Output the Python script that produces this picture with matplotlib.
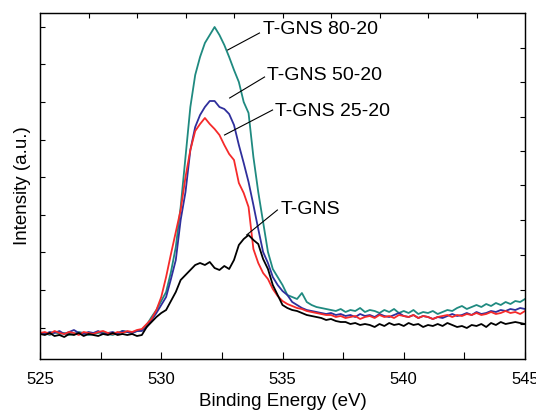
import numpy as np
import matplotlib
matplotlib.use("Agg")
import matplotlib.pyplot as plt

plt.rcParams['font.family'] = ['Liberation Sans', 'DejaVu Sans']

energy = np.linspace(525, 545, 101)

t_gns = [23,22,24,21,22,20,23,22,24,21,23,22,21,23,22,24,22,23,22,23,21,
         22,30,35,40,44,47,56,65,77,82,87,92,94,92,95,89,87,91,88,97,112,118,122,117,113,
         98,88,72,62,52,49,47,46,44,42,41,40,39,37,38,36,35,35,33,34,32,33,32,30,33,31,34,
         32,33,31,34,32,33,30,32,31,33,31,34,32,30,31,29,32,31,33,30,34,32,35,33,34,35,34,33]

t_gns_25 = [24,25,23,26,24,23,25,24,22,25,24,23,25,26,24,23,25,24,26,25,27,
            28,33,38,47,60,80,103,125,147,180,207,226,233,239,233,228,222,212,203,197,174,164,150,108,94,
            84,78,68,61,56,53,51,49,48,46,45,44,43,42,42,40,41,39,40,41,38,40,41,39,42,40,41,
            39,42,41,40,42,39,41,40,38,40,41,42,40,42,41,43,42,44,42,43,45,43,44,46,44,45,43,46]

t_gns_50 = [24,23,25,24,26,23,25,27,24,23,25,24,26,23,24,25,23,26,25,24,26,
            26,30,37,44,52,60,78,97,137,165,207,230,242,250,256,256,250,248,243,232,212,194,175,152,128,
            105,94,80,72,66,62,55,52,49,47,46,45,44,43,44,42,43,41,42,40,43,41,42,40,43,41,40,
            42,44,41,40,42,39,41,40,38,40,39,41,43,41,42,44,42,45,43,44,46,45,47,46,48,47,49,48]

t_gns_80 = [23,24,22,25,23,24,22,23,25,24,22,23,24,25,23,22,24,26,25,24,26,
            27,32,40,47,56,65,85,110,150,200,250,282,300,314,322,330,322,312,300,287,275,255,244,200,165,
            135,105,88,80,72,62,60,58,64,55,52,50,49,48,47,46,48,45,47,46,49,45,47,46,44,47,45,
            48,44,46,44,47,43,45,44,46,43,45,47,46,49,51,48,50,52,50,53,51,54,52,55,53,56,55,58]

series = [
    (t_gns_80, '#1f8a80'),
    (t_gns_50, '#2f2f9c'),
    (t_gns_25, '#f52a2a'),
    (t_gns, '#000000'),
]

labels = ['T-GNS 80-20', 'T-GNS 50-20', 'T-GNS 25-20', 'T-GNS']
label_xy = [(534.18, 327), (534.38, 282), (534.71, 246), (534.92, 148)]
line_from = [(532.74, 307), (532.82, 259), (532.61, 222), (533.52, 122)]
line_to = [(534.05, 324), (534.26, 280), (534.59, 247), (534.79, 147)]

fig = plt.figure(figsize=(5.36, 4.17), dpi=100)
ax = fig.add_axes([40/536, 1-359/417, 485/536, 346/417])

for vals, col in series:
    ax.plot(energy, vals, color=col, lw=1.3)

ax.set_xlim(525, 545)
ax.set_ylim(-2, 344)
ax.set_xticks([525, 530, 535, 540, 545])
ax.set_xticks([527.5, 532.5, 537.5, 542.5], minor=True)
ax.set_yticks([29.4 + 37.6*k for k in range(9)])
ax.set_yticklabels([])
ax.tick_params(axis='x', which='both', direction='in', length=5, width=0.8, labelsize=12, pad=9, top=False)
ax.tick_params(axis='y', direction='in', length=3.5, width=0.8, right=False)
for s in ax.spines.values():
    s.set_linewidth(0.9)

axt = ax.twiny()
axt.set_xlim(525, 545)
axt.set_xticks([527, 529, 531, 533, 535, 537, 539, 541, 543])
axt.set_xticklabels([])
axt.tick_params(axis='x', direction='in', length=3.5, width=0.8)

axr = ax.twinx()
axr.set_ylim(-2, 344)
axr.set_yticks([33, 67, 102, 137, 172, 206, 240, 275, 309])
axr.set_yticklabels([])
axr.tick_params(axis='y', direction='in', length=3.5, width=0.8)

for lab, xy, p0, p1 in zip(labels, label_xy, line_from, line_to):
    ax.plot([p0[0], p1[0]], [p0[1], p1[1]], color='black', lw=0.8)
    ax.text(xy[0], xy[1], lab, fontsize=14, va='center', ha='left')

ax.set_xlabel('Binding Energy (eV)', fontsize=13.5, labelpad=5)
ax.set_ylabel('Intensity (a.u.)', fontsize=13.5, labelpad=3)

fig.savefig('out.png', dpi=100)
